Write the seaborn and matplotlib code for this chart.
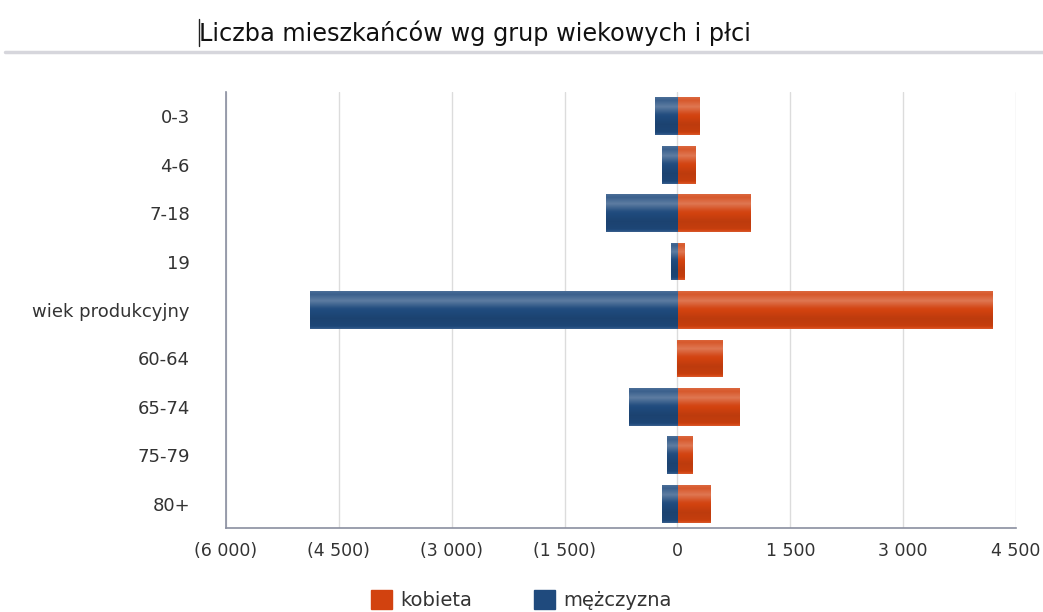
import numpy as np
import pandas as pd
import matplotlib.pyplot as plt
import matplotlib.colors as mcolors
import seaborn as sns
from matplotlib.ticker import FuncFormatter, FixedLocator
from matplotlib.lines import Line2D

# --- data ---
groups = ['0-3', '4-6', '7-18', '19', 'wiek produkcyjny', '60-64', '65-74', '75-79', '80+']
kobieta = [300, 243, 973, 97, 4191, 607, 827, 203, 442]
mezczyzna = [301, 203, 952, 84, 4881, 0, 646, 142, 203]
x_ticks = [-6000, -4500, -3000, -1500, 0, 1500, 3000, 4500]

df = pd.DataFrame({
    'grupa': groups * 2,
    'płeć': ['kobieta'] * len(groups) + ['mężczyzna'] * len(groups),
    'liczba': kobieta + [-v for v in mezczyzna],
})

col_f = '#d2420f'
col_m = '#1f4a7d'

sns.set_style("white")
plt.rcParams['font.family'] = ['DejaVu Sans']

fig = plt.figure(figsize=(10.43, 6.12), dpi=100)
ax = fig.add_axes([226 / 1043, 1 - 528 / 612, (1016 - 226) / 1043, (528 - 92) / 612])

sns.barplot(data=df, x='liczba', y='grupa', hue='płeć', order=groups,
            hue_order=['kobieta', 'mężczyzna'], palette=[col_f, col_m],
            dodge=False, width=0.78, orient='h', ax=ax, legend=False,
            edgecolor='none', saturation=1)

# glossy vertical shading on each bar (light stripe near top, darker lower half)
t = np.linspace(0, 1, 100)
shade = np.interp(t, [0, 0.08, 0.25, 0.45, 0.72, 0.92, 1.0],
                  [0.2, 0.12, 0.28, 0.03, -0.1, -0.06, 0.12])
for patch in ax.patches:
    x0, y0 = patch.get_x(), patch.get_y()
    w, h = patch.get_width(), patch.get_height()
    if abs(w) < 1e-9:
        continue
    base = np.array(mcolors.to_rgb(patch.get_facecolor()))
    img = np.array([base + (1 - base) * g if g > 0 else base * (1 + g) for g in shade])
    im = ax.imshow(img[:, None, :], extent=[x0, x0 + w, y0 + h, y0], aspect='auto',
                   interpolation='bilinear', zorder=patch.get_zorder() + 0.1)
    im.set_clip_path(patch)

ax.set_xlim(-6000, 4500)
ax.set_ylim(len(groups) - 0.5, -0.5)
ax.xaxis.set_major_locator(FixedLocator(x_ticks))


def fmt(v, pos):
    s = f"{abs(int(v)):,}".replace(',', ' ')
    return f"({s})" if v < 0 else s


ax.xaxis.set_major_formatter(FuncFormatter(fmt))
ax.grid(axis='x', color='#dcdcdc', linewidth=1)
ax.set_axisbelow(True)
ax.set_xlabel('')
ax.set_ylabel('')
for side in ['top', 'right']:
    ax.spines[side].set_visible(False)
for side in ['left', 'bottom']:
    ax.spines[side].set_color('#8a8fa0')
    ax.spines[side].set_linewidth(1.2)
ax.tick_params(axis='x', length=0, labelsize=12.5, colors='#333333', pad=10)
ax.tick_params(axis='y', length=0, labelsize=13, colors='#333333', pad=26)

# title, cursor mark and separator line
fig.text(199 / 1043, 1 - 33 / 612, 'Liczba mieszkańców wg grup wiekowych i płci',
         fontsize=17.3, color='#111111', va='center', ha='left')
fig.add_artist(Line2D([199 / 1043] * 2, [1 - 19 / 612, 1 - 46 / 612], color='#222222', linewidth=1))
fig.add_artist(Line2D([5 / 1043, 1], [1 - 52 / 612] * 2, color='#d6d6dc', linewidth=2.5))

# legend at bottom
handles = [plt.Rectangle((0, 0), 1, 1, color=col_f), plt.Rectangle((0, 0), 1, 1, color=col_m)]
fig.legend(handles, ['kobieta', 'mężczyzna'], loc='center', ncol=2,
           bbox_to_anchor=(521 / 1043, 1 - 600 / 612), frameon=False,
           fontsize=14, handlelength=1.1, handleheight=1.1, columnspacing=3.2,
           handletextpad=0.4, labelcolor='#333333')

fig.savefig('out.png', dpi=100)
